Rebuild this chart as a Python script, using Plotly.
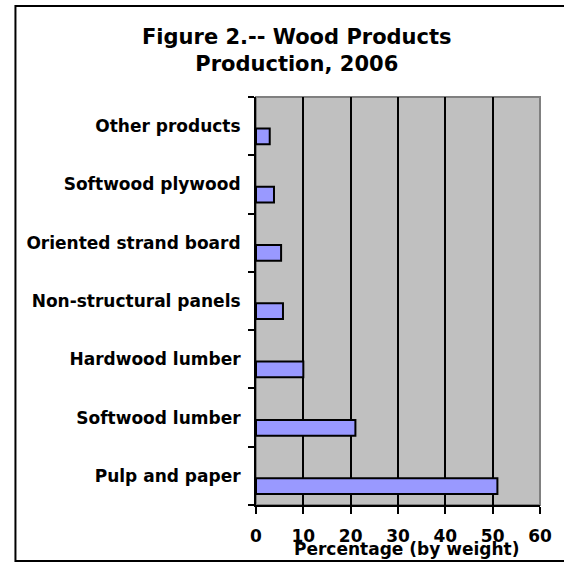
import plotly.graph_objects as go

categories = ["Pulp and paper", "Softwood lumber", "Hardwood lumber",
              "Non-structural panels", "Oriented strand board",
              "Softwood plywood", "Other products"]
values = [51.0, 21.0, 10.0, 5.7, 5.3, 3.8, 2.9]
x_ticks = [0, 10, 20, 30, 40, 50, 60]

FONT = "DejaVu Sans"

fig = go.Figure()
fig.add_trace(go.Bar(
    x=values, y=categories, orientation="h",
    width=0.27, offset=-0.31,
    marker=dict(color="#9999FF", line=dict(color="black", width=2)),
    showlegend=False,
))

fig.update_layout(
    width=564, height=563,
    margin=dict(l=256, r=20, t=97, b=58),
    paper_bgcolor="white",
    plot_bgcolor="#C0C0C0",
    font=dict(family=FONT, color="black"),
    xaxis=dict(
        range=[0, 60], tickvals=x_ticks,
        showgrid=True, gridcolor="black", gridwidth=2,
        showline=True, linecolor="black", linewidth=2,
        ticks="outside", ticklen=7, tickwidth=2, tickcolor="black",
        tickfont=dict(family=FONT, size=17, weight="bold"),
        ticklabelstandoff=8, zeroline=False,
    ),
    yaxis=dict(
        type="category", categoryorder="array", categoryarray=categories,
        range=[-0.5, 6.5],
        showgrid=False, showline=True, linecolor="black", linewidth=2,
        ticks="outside", ticklen=6, tickwidth=2, tickcolor="black",
        tickson="boundaries",
        tickfont=dict(family=FONT, size=17, weight="bold"),
        ticklabelstandoff=10,
    ),
    shapes=[
        dict(type="rect", xref="paper", yref="paper", x0=0, x1=1, y0=0, y1=1,
             line=dict(color="#808080", width=2), fillcolor="#C0C0C0", layer="below"),
        dict(type="rect", xref="paper", yref="paper", x0=-0.847, x1=1.25,
             y0=-0.137, y1=1.223, line=dict(color="black", width=2),
             fillcolor="rgba(0,0,0,0)", layer="above"),
    ],
    annotations=[
        dict(text="<b>Figure 2.-- Wood Products<br>Production, 2006</b>",
             xref="paper", yref="paper", x=0.146, y=1.115,
             xanchor="center", yanchor="middle", showarrow=False,
             font=dict(family=FONT, size=21, color="black")),
        dict(text="<b>Percentage (by weight)</b>",
             xref="paper", yref="paper", x=0.531, y=-0.108,
             xanchor="center", yanchor="middle", showarrow=False,
             font=dict(family=FONT, size=17, color="black")),
    ],
)

fig.write_html("out.html", config={"displayModeBar": False},
               post_script="document.body.style.margin='0';")
